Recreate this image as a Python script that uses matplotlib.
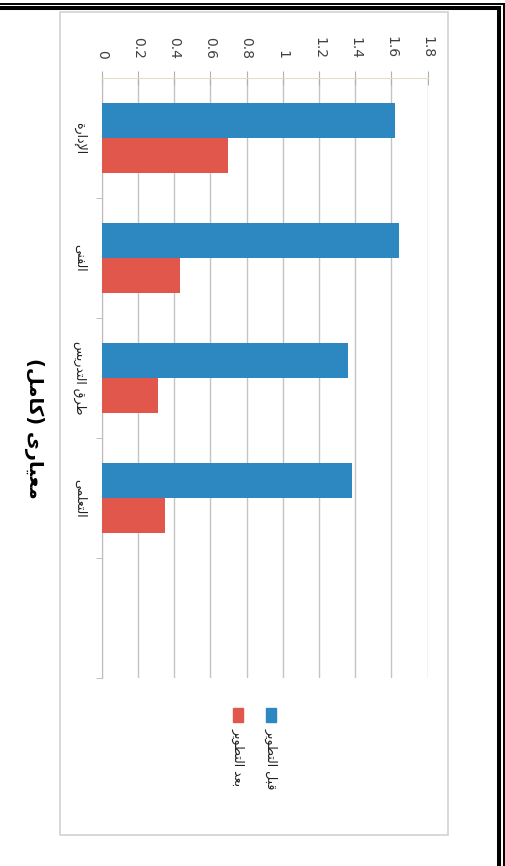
import numpy as np
import matplotlib.pyplot as plt
from matplotlib.lines import Line2D
from matplotlib.patches import Rectangle

# Arabic presentation forms (matplotlib does no shaping)
FORMS = {
    'ا': ('\uFE8D', '\uFE8E'), 'إ': ('\uFE87', '\uFE88'),
    'ب': ('\uFE8F', '\uFE90', '\uFE91', '\uFE92'), 'ة': ('\uFE93', '\uFE94'),
    'ت': ('\uFE95', '\uFE96', '\uFE97', '\uFE98'), 'ح': ('\uFEA1', '\uFEA2', '\uFEA3', '\uFEA4'),
    'د': ('\uFEA9', '\uFEAA'), 'ر': ('\uFEAD', '\uFEAE'),
    'س': ('\uFEB1', '\uFEB2', '\uFEB3', '\uFEB4'), 'ط': ('\uFEC1', '\uFEC2', '\uFEC3', '\uFEC4'),
    'ع': ('\uFEC9', '\uFECA', '\uFECB', '\uFECC'), 'ف': ('\uFED1', '\uFED2', '\uFED3', '\uFED4'),
    'ق': ('\uFED5', '\uFED6', '\uFED7', '\uFED8'), 'ك': ('\uFED9', '\uFEDA', '\uFEDB', '\uFEDC'),
    'ل': ('\uFEDD', '\uFEDE', '\uFEDF', '\uFEE0'), 'م': ('\uFEE1', '\uFEE2', '\uFEE3', '\uFEE4'),
    'ن': ('\uFEE5', '\uFEE6', '\uFEE7', '\uFEE8'), 'و': ('\uFEED', '\uFEEE'),
    'ى': ('\uFEEF', '\uFEF0'), 'ي': ('\uFEF1', '\uFEF2', '\uFEF3', '\uFEF4'),
}
LAM_ALEF = {'ا': ('\uFEFB', '\uFEFC'), 'إ': ('\uFEF9', '\uFEFA')}


def dual(c):
    return c in FORMS and len(FORMS[c]) == 4


def arabic(s):
    out = []
    i = 0
    while i < len(s):
        c = s[i]
        prev = s[i - 1] if i > 0 else ' '
        nxt = s[i + 1] if i + 1 < len(s) else ' '
        if c not in FORMS:
            out.append(c)
            i += 1
            continue
        jp = dual(prev)
        if c == 'ل' and nxt in LAM_ALEF:
            out.append(LAM_ALEF[nxt][1 if jp else 0])
            i += 2
            continue
        jn = dual(c) and nxt in FORMS
        f = FORMS[c]
        if jp and jn:
            out.append(f[3])
        elif jp:
            out.append(f[1])
        elif jn:
            out.append(f[2])
        else:
            out.append(f[0])
        i += 1
    vis = ''.join(reversed(out))
    return vis.translate(str.maketrans('()', ')('))


categories = ['الإدارة', 'الفنى', 'طرق التدريس', 'التعلمى', '']
before = [1.62, 1.64, 1.36, 1.38, np.nan]
after = [0.70, 0.43, 0.31, 0.35, np.nan]
series_names = ['قبل التطوير', 'بعد التطوير']
title = 'معيارى (كامل)'
xticks = [0, 0.2, 0.4, 0.6, 0.8, 1, 1.2, 1.4, 1.6, 1.8]

blue = '#2d88c1'
red = '#e2574c'

fig = plt.figure(figsize=(5.06, 8.66), dpi=100)
ax = fig.add_axes([0.201, 0.2171, 0.6443, 0.6928])

y = np.arange(len(categories))
h = 0.29
ax.barh(y - h / 2, before, height=h, color=blue, zorder=3)
ax.barh(y + h / 2, after, height=h, color=red, zorder=3)

ax.set_xlim(0, 1.8)
ax.set_ylim(len(categories) - 0.5, -0.5)
ax.xaxis.tick_top()
ax.set_xticks(xticks)
ax.set_xticklabels([f'{v:g}' for v in xticks], rotation=-90, fontsize=10, color='#404040')
ax.tick_params(axis='x', direction='inout', length=10, color='#b0b0b0', pad=9)
ax.grid(axis='x', color='#c4c4c4', lw=1, zorder=0)

ax.set_yticks(y)
ax.set_yticklabels([arabic(c) for c in categories], rotation=-90, fontsize=9,
                   family='DejaVu Sans', color='#222222', va='center', ha='right')
ax.set_yticks(np.arange(len(categories)) + 0.5, minor=True)
ax.tick_params(axis='y', which='major', length=0, pad=11)
ax.tick_params(axis='y', which='minor', length=4, direction='out', color='#b8b8b8')

for s in ['right', 'bottom']:
    ax.spines[s].set_visible(False)
ax.spines['top'].set_color('#e6dcc6')
ax.spines['left'].set_color('#bdbdbd')

# chart area border
fig.patches.append(Rectangle((60 / 506, 1 - 835 / 866), 388 / 506, 823 / 866,
                             transform=fig.transFigure, fill=False,
                             edgecolor='#d2d2d2', lw=1.2))

# page frame (double line)
W, H = 506, 866
fig.lines.append(Line2D([0, 504 / W], [1 - 4 / H, 1 - 4 / H], transform=fig.transFigure, color='black', lw=1.4))
fig.lines.append(Line2D([0, 499 / W], [1 - 8 / H, 1 - 8 / H], transform=fig.transFigure, color='black', lw=2.9))
fig.lines.append(Line2D([504 / W, 504 / W], [1 - 4 / H, 0], transform=fig.transFigure, color='black', lw=1.4))
fig.lines.append(Line2D([499 / W, 499 / W], [1 - 8 / H, 0], transform=fig.transFigure, color='black', lw=2.9))

# title
fig.text(34 / W, 1 - 428 / H, arabic(title), rotation=-90, fontsize=14, fontweight='bold',
         ha='center', va='center', family='DejaVu Sans')

# legend
for name, col, lx in [(series_names[0], blue, 271), (series_names[1], red, 238)]:
    fig.patches.append(Rectangle(((lx - 5) / W, 1 - 722 / H), 10 / W, 14 / H,
                                 transform=fig.transFigure, color=col))
    fig.text(lx / W, 1 - 728 / H, arabic(name), rotation=-90, fontsize=9,
             ha='center', va='top', family='DejaVu Sans', color='#222222')

fig.savefig('out.png', dpi=100)
